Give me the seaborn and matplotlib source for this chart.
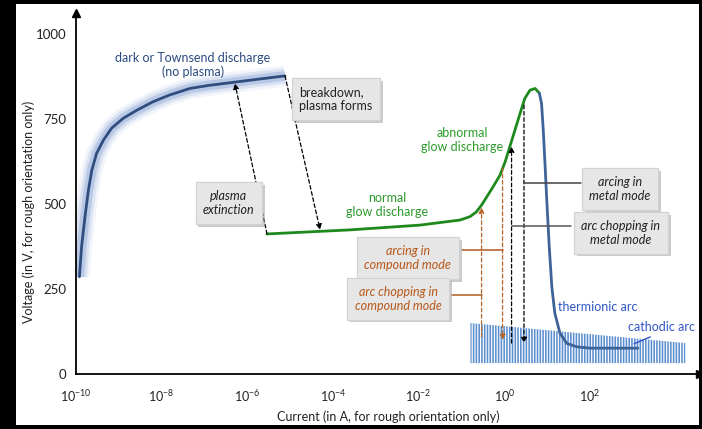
import numpy as np
import pandas as pd
import matplotlib
matplotlib.use("Agg")
import matplotlib.pyplot as plt
import seaborn as sns
from matplotlib.patches import Rectangle
import matplotlib.patheffects as pe

# ---------------- data (current exponent log10(I/A), voltage in V) ----------------
dark_exp = [-9.92, -9.87, -9.79, -9.71, -9.63, -9.52, -9.36, -9.17, -8.90, -8.58, -8.20,
            -7.81, -7.34, -6.90, -6.33, -5.70, -5.12]
dark_volt = [286, 374, 463, 541, 600, 649, 688, 723, 752, 776, 801,
             821, 840, 849, 858, 868, 877]

glow_exp = [-5.54, -3.60, -1.97, -1.03, -0.80, -0.65, -0.53, -0.41, -0.26, -0.10, 0.02,
            0.13, 0.25, 0.37, 0.48, 0.60, 0.72, 0.82]
glow_volt = [412, 424, 438, 453, 463, 477, 497, 521, 551, 585, 624,
             669, 718, 767, 811, 835, 840, 826]

arc_exp = [0.82, 0.87, 0.91, 0.95, 1.00, 1.05, 1.11, 1.18, 1.30, 1.46, 1.69, 2.00, 3.12]
arc_volt = [826, 796, 718, 620, 492, 374, 257, 179, 120, 90, 80, 76, 76]

band_exp = [-0.79, 4.23]
band_top = [150, 91]
band_bottom = [32, 32]

x_tick_exp = [-10, -8, -6, -4, -2, 0, 2]
y_ticks = [0, 250, 500, 750, 1000]

# ---------------- style ----------------
sns.set_theme(style="white")
FONT = ["Lato", "DejaVu Sans"]
plt.rcParams["font.family"] = FONT
plt.rcParams["mathtext.fontset"] = "custom"
plt.rcParams["mathtext.rm"] = "Lato"
plt.rcParams["mathtext.default"] = "regular"
plt.rcParams["hatch.linewidth"] = 1.15

W, H = 702, 429
fig = plt.figure(figsize=(W / 100, H / 100), dpi=100, facecolor="black")
fig.patches.append(Rectangle((16 / W, 4 / H), 683 / W, 421 / H, transform=fig.transFigure,
                             facecolor="white", edgecolor="none", zorder=-10))

ax = fig.add_axes([76 / W, (H - 374) / H, (700 - 76) / W, (374 - 13) / H])
ax.set_zorder(5)
ax.patch.set_visible(False)

df = pd.concat([
    pd.DataFrame({"I": 10.0 ** np.array(dark_exp), "V": dark_volt, "seg": "dark"}),
    pd.DataFrame({"I": 10.0 ** np.array(glow_exp), "V": glow_volt, "seg": "glow"}),
    pd.DataFrame({"I": 10.0 ** np.array(arc_exp), "V": arc_volt, "seg": "arc"}),
], ignore_index=True)
dark_df = df[df.seg == "dark"]

# cathodic arc band (hatched)
ax.fill_between(10.0 ** np.array(band_exp), band_bottom, band_top, facecolor="white",
                edgecolor="#5b8fd0", hatch="||||||", linewidth=0, zorder=1)

# halo around dark discharge curve
for lw, a in [(15, 0.12), (11, 0.22), (7, 0.45)]:
    sns.lineplot(data=dark_df, x="I", y="V", sort=False, color="#8ea9d6", linewidth=lw,
                 alpha=a, ax=ax, legend=False, zorder=2, solid_capstyle="butt")

sns.lineplot(data=df, x="I", y="V", hue="seg", units="seg", estimator=None, sort=False,
             palette={"dark": "#2f4d7e", "glow": "#1e8a1e", "arc": "#3d6399"},
             linewidth=2.0, ax=ax, legend=False, zorder=4)

ax.set_xscale("log")
ax.set_xlim(1e-10, 10 ** 4.57)
ax.set_ylim(0, 1062)

# axes
for s in ["top", "right"]:
    ax.spines[s].set_visible(False)
for s in ["left", "bottom"]:
    ax.spines[s].set_color("black")
    ax.spines[s].set_linewidth(1.3)
ax.plot(1, 0, marker=">", color="black", markersize=6, transform=ax.transAxes, clip_on=False)
ax.plot(0, 1, marker="^", color="black", markersize=6, transform=ax.transAxes, clip_on=False)

ax.set_xticks([10.0 ** e for e in x_tick_exp])
ax.set_xticklabels([f"$10^{{{e}}}$" for e in x_tick_exp])
ax.xaxis.set_minor_locator(matplotlib.ticker.NullLocator())
ax.set_yticks(y_ticks)
ax.set_yticklabels([str(v) for v in y_ticks])
ax.tick_params(axis="x", direction="in", length=8.5, width=1.3, colors="black", pad=10,
               labelsize=9, labelcolor="#222222")
ax.tick_params(axis="y", direction="in", length=7, width=1.3, colors="black", pad=7,
               labelsize=9.5, labelcolor="#222222")
ax.set_xlabel("Current (in A, for rough orientation only)", fontsize=9, color="#222222", labelpad=5)
ax.set_ylabel("Voltage (in V, for rough orientation only)", fontsize=9, color="#222222")
ax.yaxis.set_label_coords(-0.066, 0.45)


def X(e):
    return 10.0 ** e


# dashed arrows
def darrow(x0, y0, x1, y1, color):
    ax.annotate("", xy=(X(x1), y1), xytext=(X(x0), y0),
                arrowprops=dict(arrowstyle="-|>", color=color, lw=0.9, linestyle=(0, (3, 2)),
                                mutation_scale=8, shrinkA=0, shrinkB=0), zorder=5)


darrow(-5.12, 877, -4.30, 424, "black")        # breakdown
darrow(-5.54, 412, -6.29, 855, "black")        # plasma extinction
darrow(-0.53, 109, -0.53, 490, "#b8652a")      # arc chopping compound
darrow(-0.04, 606, -0.04, 100, "#b8652a")      # arcing compound
darrow(0.17, 91, 0.17, 669, "black")            # arc chopping metal
darrow(0.46, 791, 0.46, 91, "black")            # arcing metal

# connector lines
ax.plot([X(0.46), X(1.79)], [562, 562], color="#444444", lw=1.1, zorder=5)
ax.plot([X(0.17), X(1.56)], [435, 435], color="#555555", lw=1.1, zorder=5)
ax.plot([X(-0.99), X(-0.04)], [365, 365], color="#b05a1e", lw=1.1, zorder=5)
ax.plot([X(-1.22), X(-0.53)], [232, 232], color="#b05a1e", lw=1.1, zorder=5)

# cathodic arc pointer
ax.plot([X(3.03), X(3.41)], [89, 109], color="#2f55c8", lw=1.0, zorder=5)


def box(x, y, s, color, italic=True, ha="center"):
    t = ax.text(X(x), y, s, ha=ha, va="center", fontsize=9, color=color,
                style="italic" if italic else "normal", linespacing=1.25, zorder=7,
                bbox=dict(boxstyle="square,pad=0.6", fc="#e6e6e6", ec="#d2d2d2", lw=0.8))
    t.get_bbox_patch().set_path_effects([
        pe.withSimplePatchShadow(offset=(2, -2), shadow_rgbFace="#999999", alpha=0.5),
        pe.Normal(),
    ])
    return t


box(-4.79, 809, "breakdown,\nplasma forms", "#222222", italic=False, ha="left")
box(-6.43, 503, "plasma\nextinction", "#222222")
box(-2.25, 341, "arcing in\ncompound mode", "#b8581a")
box(-2.48, 221, "arc chopping in\ncompound mode", "#b8581a")
box(2.70, 544, "arcing in\nmetal mode", "#222222")
box(2.72, 415, "arc chopping in\nmetal mode", "#222222")

ax.text(X(-7.27), 909, "dark or Townsend discharge\n(no plasma)", ha="center", va="center",
        fontsize=9, color="#2a4a80", linespacing=1.2, zorder=6)
ax.text(X(-2.74), 497, "normal\nglow discharge", ha="center", va="center",
        fontsize=9, color="#2a992a", linespacing=1.2, zorder=6)
ax.text(X(-0.99), 688, "abnormal\nglow discharge", ha="center", va="center",
        fontsize=9, color="#2a992a", linespacing=1.2, zorder=6)
ax.text(X(2.19), 197, "thermionic arc", ha="center", va="center", fontsize=9,
        color="#2f55c8", zorder=6)
ax.text(X(3.68), 138, "cathodic arc", ha="center", va="center", fontsize=9,
        color="#2f55c8", zorder=6)

fig.savefig("out.png", dpi=100, facecolor="black")
